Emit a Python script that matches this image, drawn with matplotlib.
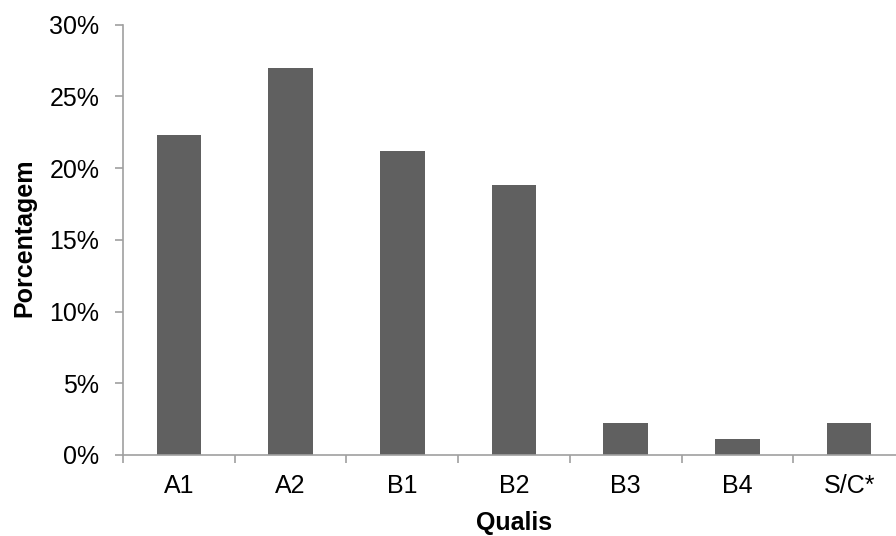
import matplotlib.pyplot as plt
from matplotlib.ticker import FuncFormatter

categorias = ['A1', 'A2', 'B1', 'B2', 'B3', 'B4', 'S/C*']
porcentagens = [22.3, 27.0, 21.2, 18.8, 2.25, 1.1, 2.25]

plt.rcParams['font.family'] = ['Liberation Sans', 'DejaVu Sans']

fig = plt.figure(figsize=(8.96, 5.36), dpi=100)
ax = fig.add_axes([123 / 896, (536 - 455) / 536, 782 / 896, 430.5 / 536])

x = range(len(categorias))
ax.bar(x, porcentagens, width=0.40, color='#606060', zorder=2)

ax.set_xlim(-0.5, len(categorias) - 0.5)
ax.set_ylim(0, 30)
ax.set_yticks([0, 5, 10, 15, 20, 25, 30])
ax.yaxis.set_major_formatter(FuncFormatter(lambda v, p: f'{v:.0f}%'))
ax.set_xticks([i - 0.5 for i in range(len(categorias) + 1)], minor=False)
ax.set_xticklabels([''] * (len(categorias) + 1))
ax.set_xticks(list(x), minor=True)
ax.set_xticklabels(categorias, minor=True)
ax.tick_params(axis='x', which='minor', length=0, pad=14, labelsize=18)
ax.tick_params(axis='x', which='major', length=6, color='#a0a0a0', width=1.2)
ax.tick_params(axis='y', length=6, color='#a0a0a0', width=1.2, labelsize=18, pad=11)

for s in ['top', 'right']:
    ax.spines[s].set_visible(False)
for s in ['left', 'bottom']:
    ax.spines[s].set_color('#a0a0a0')
    ax.spines[s].set_linewidth(1.2)

fig.text(24 / 896, 1 - 238 / 536, 'Porcentagem', fontsize=18, fontweight='bold',
         rotation=90, ha='center', va='center')
fig.text(514 / 896, 1 - 523 / 536, 'Qualis', fontsize=18, fontweight='bold',
         ha='center', va='center')

fig.savefig('out.png', dpi=100)
